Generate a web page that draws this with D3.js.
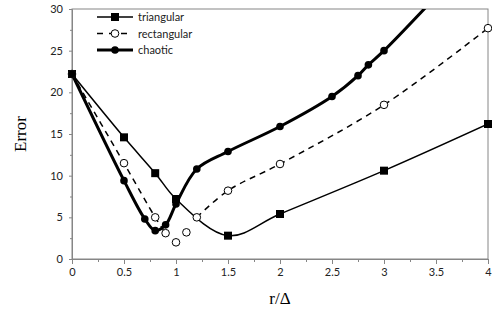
<!DOCTYPE html>
<html>
<head>
<meta charset="utf-8">
<script src="https://cdn.jsdelivr.net/npm/d3@7"></script>
<style>
body { margin: 0; background: #fff; }
</style>
</head>
<body>
<script>
var w = 492;
var h = 315;

// data
var xTicks = [0, 0.5, 1, 1.5, 2, 2.5, 3, 3.5, 4];
var yTicks = [0, 5, 10, 15, 20, 25, 30];

var triX = [0, 0.5, 0.8, 1.0, 1.5, 2, 3, 4];
var triY = [22.2, 14.6, 10.3, 7.2, 2.8, 5.4, 10.6, 16.2];

var rectX = [0, 0.5, 0.8, 0.9, 1.0, 1.1, 1.2, 1.5, 2, 3, 4];
var rectY = [22.2, 11.5, 5.0, 3.1, 2.0, 3.2, 5.0, 8.2, 11.4, 18.5, 27.7];
// 1.0 and 1.1 are not joined by the dashed line
var rectJoined = [true, true, true, true, false, false, true, true, true, true, true];

var chaosX = [0, 0.5, 0.7, 0.8, 0.9, 1.0, 1.2, 1.5, 2, 2.5, 2.75, 2.85, 3, 3.5];
var chaosY = [22.2, 9.4, 4.8, 3.4, 4.1, 6.6, 10.8, 12.9, 15.9, 19.5, 22.0, 23.3, 25.0, 31.5];

var legendNames = ["triangular", "rectangular", "chaotic"];

function zip(xs, ys) {
	return xs.map(function(d, i) { return [d, ys[i]]; });
}

var margin = {left: 72, right: 4, top: 9, bottom: 56};

var x = d3.scaleLinear().domain([0, 4]).range([margin.left, w - margin.right]);
var y = d3.scaleLinear().domain([0, 30]).range([h - margin.bottom, margin.top]);

var svg = d3.select("body")
.append("svg")
.attr("width", w)
.attr("height", h);

svg.append("defs").append("clipPath")
.attr("id", "plot")
.append("rect")
.attr("x", x(0))
.attr("y", y(30))
.attr("width", x(4) - x(0))
.attr("height", y(0) - y(30));

// plot frame
svg.append("rect")
.attr("x", x(0))
.attr("y", y(30))
.attr("width", x(4) - x(0))
.attr("height", y(0) - y(30))
.attr("fill", "none")
.attr("stroke", "#868686")
.attr("stroke-width", 1);

var font = "Lato, 'Open Sans', sans-serif";

// x axis
var xAxis = svg.append("g")
.attr("transform", "translate(0," + y(0) + ")")
.call(d3.axisBottom(x).tickValues(xTicks).tickFormat(d3.format("")).tickSize(5).tickPadding(4));
svg.append("g")
.attr("transform", "translate(0," + y(0) + ")")
.call(d3.axisBottom(x).tickValues(d3.range(0.25, 4, 0.5)).tickFormat("").tickSize(3))
.select(".domain").remove();

// y axis
var yAxis = svg.append("g")
.attr("transform", "translate(" + x(0) + ",0)")
.call(d3.axisLeft(y).tickValues(yTicks).tickSize(3).tickPadding(6));
svg.append("g")
.attr("transform", "translate(" + x(0) + ",0)")
.call(d3.axisLeft(y).tickValues(d3.range(2.5, 30, 5)).tickFormat("").tickSize(2))
.select(".domain").remove();

svg.selectAll(".tick line").attr("stroke", "#868686");
svg.selectAll(".domain").attr("stroke", "#868686");
svg.selectAll(".tick text")
.attr("font-family", font)
.attr("font-size", "11px")
.attr("fill", "#222");

// axis titles
svg.append("text")
.attr("x", x(2))
.attr("y", 304)
.attr("text-anchor", "middle")
.attr("font-family", "'Liberation Serif', serif")
.attr("font-size", "17px")
.text("r/\u0394");

svg.append("text")
.attr("transform", "translate(26," + y(15) + ") rotate(-90)")
.attr("text-anchor", "middle")
.attr("font-family", "'Liberation Serif', serif")
.attr("font-size", "17px")
.text("Error");

var smooth = d3.line()
.x(function(d) { return x(d[0]); })
.y(function(d) { return y(d[1]); })
.curve(d3.curveCatmullRom.alpha(0.5));

var plot = svg.append("g").attr("clip-path", "url(#plot)");

// triangular
var tri = zip(triX, triY);
plot.append("path")
.datum(tri)
.attr("d", smooth)
.attr("fill", "none")
.attr("stroke", "#000")
.attr("stroke-width", 1.5);

// rectangular
var rect = zip(rectX, rectY);
plot.append("path")
.datum(rect)
.attr("d", smooth.defined(function(d, i) { return rectJoined[i]; }))
.attr("fill", "none")
.attr("stroke", "#000")
.attr("stroke-width", 1.5)
.attr("stroke-dasharray", "6,5");
smooth.defined(function() { return true; });

// chaotic
var chaos = zip(chaosX, chaosY);
plot.append("path")
.datum(chaos)
.attr("d", smooth)
.attr("fill", "none")
.attr("stroke", "#000")
.attr("stroke-width", 3);

// markers
svg.append("g").selectAll("rect")
.data(tri)
.enter()
.append("rect")
.attr("x", function(d) { return x(d[0]) - 4; })
.attr("y", function(d) { return y(d[1]) - 4; })
.attr("width", 8)
.attr("height", 8)
.attr("fill", "#000");

svg.append("g").selectAll("circle")
.data(rect)
.enter()
.append("circle")
.attr("cx", function(d) { return x(d[0]); })
.attr("cy", function(d) { return y(d[1]); })
.attr("r", 3.8)
.attr("fill", "#fff")
.attr("stroke", "#000")
.attr("stroke-width", 1);

svg.append("g").selectAll("circle")
.data(chaos.filter(function(d) { return d[1] <= 30; }))
.enter()
.append("circle")
.attr("cx", function(d) { return x(d[0]); })
.attr("cy", function(d) { return y(d[1]); })
.attr("r", 3.8)
.attr("fill", "#000");

// legend
var lg = svg.append("g").attr("transform", "translate(97,17)");
var rowH = 16.5;

lg.selectAll("text")
.data(legendNames)
.enter()
.append("text")
.attr("x", 41)
.attr("y", function(d, i) { return i * rowH + 4; })
.attr("font-family", font)
.attr("font-size", "11px")
.attr("fill", "#222")
.text(function(d) { return d; });

lg.append("line").attr("x1", 0).attr("x2", 36).attr("y1", 0).attr("y2", 0)
.attr("stroke", "#000").attr("stroke-width", 1.5);
lg.append("rect").attr("x", 14).attr("y", -4).attr("width", 8).attr("height", 8).attr("fill", "#000");

lg.append("line").attr("x1", 0).attr("x2", 36).attr("y1", rowH).attr("y2", rowH)
.attr("stroke", "#000").attr("stroke-width", 1.5).attr("stroke-dasharray", "6,6");
lg.append("circle").attr("cx", 18).attr("cy", rowH).attr("r", 3.8)
.attr("fill", "#fff").attr("stroke", "#000");

lg.append("line").attr("x1", 0).attr("x2", 36).attr("y1", 2 * rowH).attr("y2", 2 * rowH)
.attr("stroke", "#000").attr("stroke-width", 3);
lg.append("circle").attr("cx", 18).attr("cy", 2 * rowH).attr("r", 3.8).attr("fill", "#000");
</script>
</body>
</html>
